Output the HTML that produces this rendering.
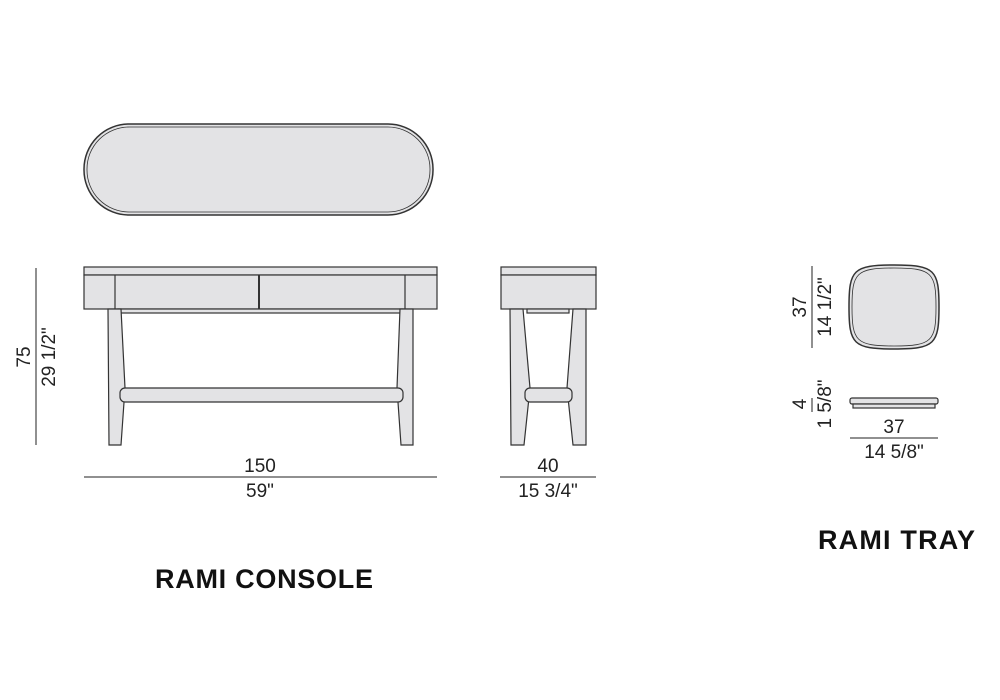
<!DOCTYPE html>
<html><head><style>body{margin:0;background:#fff}svg{display:block}</style></head><body>
<svg width="1000" height="700" viewBox="0 0 1000 700" xmlns="http://www.w3.org/2000/svg" font-family="Liberation Sans, sans-serif">
<g stroke="#333" stroke-width="1.2" fill="#e3e3e5">
<rect x="84" y="124" width="349" height="91" rx="45" ry="45" stroke-width="1.5"/>
<rect x="87" y="127" width="343" height="85" rx="42" ry="42" stroke-width="0.8"/>
<rect x="84" y="267" width="353" height="8"/>
<rect x="84" y="275" width="353" height="34"/>
<line x1="115" y1="275" x2="115" y2="309"/>
<line x1="259" y1="275" x2="259" y2="309" stroke-width="2"/>
<line x1="405" y1="275" x2="405" y2="309"/>
<rect x="118" y="309" width="285" height="4"/>
<path d="M108,309 L121,309 L125,388 L121,445 L109,445 Z"/>
<path d="M400,309 L413,309 L413,445 L401,445 L397,388 Z"/>
<rect x="120" y="388" width="283" height="14" rx="5"/>
<rect x="501" y="267" width="95" height="8"/>
<rect x="501" y="275" width="95" height="34"/>
<rect x="527" y="309" width="42" height="4"/>
<path d="M510,309 L523,309 L530,388 L524,445 L511,445 Z"/>
<path d="M573,309 L586,309 L586,445 L573,445 L567,388 Z"/>
<rect x="525" y="388" width="47" height="14" rx="5"/>
<path d="M894,265 C935,265 939,270 939,307 C939,344 935,349 894,349 C853,349 849,344 849,307 C849,270 853,265 894,265 Z" stroke-width="1.5"/>
<path d="M894,268 C932,268 936,273 936,307 C936,341 932,346 894,346 C856,346 852,341 852,307 C852,273 856,268 894,268 Z" stroke-width="0.8"/>
<rect x="850" y="398" width="88" height="6" rx="2"/>
<rect x="853" y="404" width="82" height="4"/>
</g>
<g stroke="#222" stroke-width="1">
<line x1="36" y1="268" x2="36" y2="445"/>
<line x1="84" y1="477" x2="437" y2="477"/>
<line x1="500" y1="477" x2="596" y2="477"/>
<line x1="812" y1="266" x2="812" y2="348"/>
<line x1="812" y1="398" x2="812" y2="412"/>
<line x1="850" y1="438" x2="938" y2="438"/>
</g>
<g font-size="19" fill="#222" text-anchor="middle">
<text transform="translate(30,357) rotate(-90)">75</text>
<text transform="translate(55,357) rotate(-90)">29 1/2"</text>
<text x="260" y="472">150</text>
<text x="260" y="497">59"</text>
<text x="548" y="472">40</text>
<text x="548" y="497">15 3/4"</text>
<text transform="translate(806,307) rotate(-90)">37</text>
<text transform="translate(831,307) rotate(-90)">14 1/2"</text>
<text transform="translate(806,404) rotate(-90)">4</text>
<text transform="translate(831,404) rotate(-90)">1 5/8"</text>
<text x="894" y="433">37</text>
<text x="894" y="458">14 5/8"</text>
</g>
<g font-size="27" font-weight="bold" fill="#111">
<text x="155" y="588" textLength="218">RAMI CONSOLE</text>
<text x="818" y="549" textLength="157">RAMI TRAY</text>
</g>
</svg>
</body></html>
